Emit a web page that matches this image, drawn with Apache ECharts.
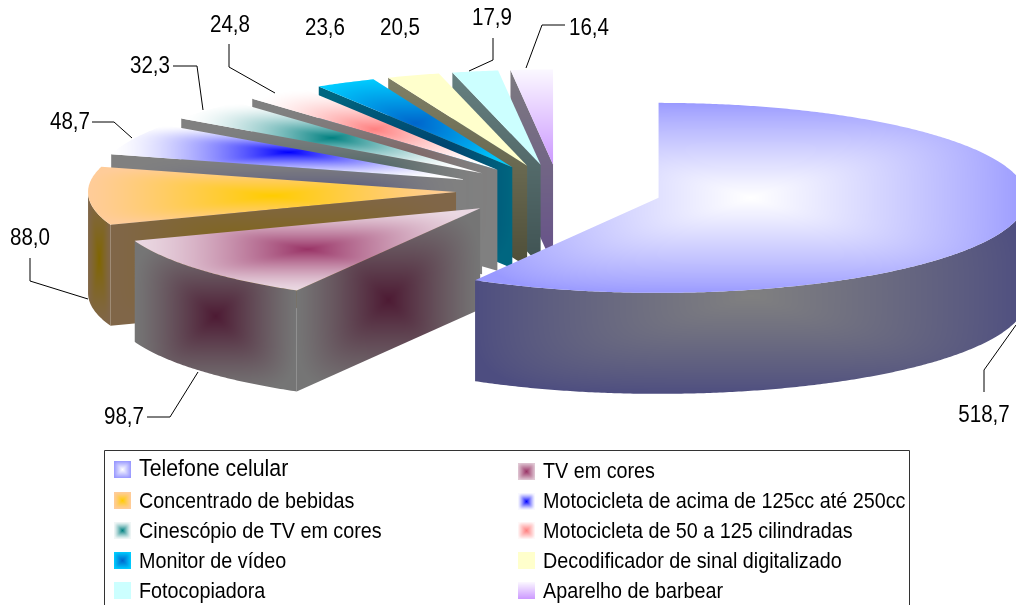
<!DOCTYPE html>
<html>
<head>
<meta charset="utf-8">
<style>html,body{margin:0;padding:0;background:#fff;overflow:hidden}#chart{width:1016px;height:605px}</style>
<script src="https://cdn.jsdelivr.net/npm/echarts@6/dist/echarts.min.js"></script>
</head>
<body>
<div id="chart"></div>
<script>
// Exploded 3D pie: exports by product, values in the order they run clockwise from 12 o'clock.
const categories = ['Telefone celular', 'TV em cores', 'Concentrado de bebidas',
  'Motocicleta de acima de 125cc até 250cc', 'Cinescópio de TV em cores',
  'Motocicleta de 50 a 125 cilindradas', 'Monitor de vídeo',
  'Decodificador de sinal digitalizado', 'Fotocopiadora', 'Aparelho de barbear'];
const values = [518.7, 98.7, 88.0, 48.7, 32.3, 24.8, 23.6, 20.5, 17.9, 16.4];

// Face shading: mode 'box' runs edge -> centre across the face's bounding box, 'down' runs top -> bottom.
// The last entry bends the ramp: above 1 the centre colour stays tighter to the middle.
const topShades = [
  ['box', '#9999ff', '#ffffff', 0.85], ['box', '#ead8e2', '#993366', 1.4], ['box', '#ffcc99', '#ffcc00', 1.2],
  ['box', '#ffffff', '#0000ff', 1.5], ['box', '#ffffff', '#008080', 1.6], ['box', '#ffffff', '#ff8080', 1.5],
  ['box', '#00ccff', '#0066cc', 1], ['box', '#ffffcc', '#ffffcc', 1], ['box', '#ccffff', '#ccffff', 1],
  ['down', '#fbf8ff', '#cc99ff', 1]
];
const sideShades = [
  ['box', '#4d4d80', '#808080', 0.85], ['box', '#757575', '#4d1a33', 1.2], ['box', '#806648', '#806600', 1.3],
  ['box', '#808080', '#000080', 2], ['box', '#808080', '#004040', 2], ['box', '#808080', '#804040', 2],
  ['box', '#006680', '#003366', 1], ['down', '#808066', '#4e4e38', 1], ['down', '#668080', '#3f5252', 1],
  ['down', '#7d7a80', '#66508a', 1]
];

// Pie geometry on the page.
const PIE = { cx: 559, cy: 191, rx: 368, ry: 95, depth: 101, explode: 0.28 };
const FONT = '"Liberation Sans", Arial, sans-serif';
const LABEL_FONT_SIZE = 23;
const LABEL_SQUEEZE = 0.895;

// Where each value label sits and the leader line that ties it to its slice.
const labelSpots = [
  { at: [984, 416], leader: [[984, 392], [984, 370], [1016, 325]] },
  { at: [124, 418], leader: [[147, 417], [170, 417], [198, 372]] },
  { at: [30, 239], leader: [[30, 258], [30, 281], [88, 299]] },
  { at: [70, 123], leader: [[92, 122], [114, 122], [132, 138]] },
  { at: [150, 67], leader: [[173, 66], [197, 66], [203, 110]] },
  { at: [230, 26], leader: [[229, 44], [229, 67], [275, 93]] },
  { at: [325, 29], leader: null },
  { at: [400, 29], leader: null },
  { at: [492, 19], leader: [[493, 38], [493, 60], [469, 71]] },
  { at: [589, 29], leader: [[565, 25], [542, 25], [526, 68]] }
];

function rgb(hex) {
  return [1, 3, 5].map(i => parseInt(hex.substr(i, 2), 16));
}

// Paints one shading into a canvas of the given size so it can be used as a fill.
function shadeCanvas(w, h, box, shade) {
  const canvas = document.createElement('canvas');
  canvas.width = w;
  canvas.height = h;
  const ctx = canvas.getContext('2d');
  const x0 = Math.max(0, Math.floor(box[0])), x1 = Math.min(w, Math.ceil(box[2]));
  const y0 = Math.max(0, Math.floor(box[1])), y1 = Math.min(h, Math.ceil(box[3]));
  if (x1 <= x0 || y1 <= y0) return canvas;
  const img = ctx.createImageData(x1 - x0, y1 - y0);
  const a = rgb(shade[1]), b = rgb(shade[2]);
  const bend = shade[3];
  const mx = (box[0] + box[2]) / 2, my = (box[1] + box[3]) / 2;
  const hw = Math.max(1, (box[2] - box[0]) / 2), hh = Math.max(1, (box[3] - box[1]) / 2);
  let p = 0;
  for (let y = y0; y < y1; y++) {
    for (let x = x0; x < x1; x++) {
      let t;
      if (shade[0] === 'box') {
        const dx = Math.abs(x + 0.5 - mx) / hw, dy = Math.abs(y + 0.5 - my) / hh;
        t = Math.pow(Math.max(0, 1 - Math.pow(Math.pow(dx, 5) + Math.pow(dy, 5), 0.2)), bend);
      } else {
        t = Math.min(1, Math.max(0, (y + 0.5 - box[1]) / (box[3] - box[1])));
      }
      img.data[p++] = a[0] + (b[0] - a[0]) * t;
      img.data[p++] = a[1] + (b[1] - a[1]) * t;
      img.data[p++] = a[2] + (b[2] - a[2]) * t;
      img.data[p++] = 255;
    }
  }
  ctx.putImageData(img, x0, y0);
  return canvas;
}

function fillFor(points, shade) {
  const xs = points.map(p => p[0]), ys = points.map(p => p[1]);
  const box = [Math.min(...xs), Math.min(...ys), Math.max(...xs), Math.max(...ys)];
  return { image: shadeCanvas(1016, 605, box, shade), repeat: 'no-repeat' };
}

// Builds the faces of a slice from its share of the total.
const total = values.reduce((s, v) => s + v, 0);
const RAD = Math.PI / 180;

function sliceGeometry(i) {
  const before = values.slice(0, i).reduce((s, v) => s + v, 0);
  const start = before / total * 360;
  const end = (before + values[i]) / total * 360;
  const mid = (start + end) / 2 * RAD;
  const apex = [
    PIE.cx + Math.sin(mid) * PIE.explode * PIE.rx,
    PIE.cy - Math.cos(mid) * PIE.explode * PIE.ry
  ];
  const rim = deg => [
    apex[0] + Math.sin(deg * RAD) * PIE.rx,
    apex[1] - Math.cos(deg * RAD) * PIE.ry
  ];
  const arc = (from, to) => {
    const out = [];
    const steps = Math.max(2, Math.ceil((to - from) * 2));
    for (let k = 0; k <= steps; k++) out.push(rim(from + (to - from) * k / steps));
    return out;
  };
  const drop = pts => pts.map(p => [p[0], p[1] + PIE.depth]);
  const faces = [];
  if (start > 180 && start < 360) {
    const edge = [apex, rim(start)];
    faces.push(edge.concat(drop(edge).reverse()));
  }
  const from = Math.max(start, 90), to = Math.min(end, 270);
  if (to > from) {
    const curve = arc(from, to);
    faces.push(curve.concat(drop(curve).reverse()));
  }
  return { top: [apex].concat(arc(start, end)), faces };
}

const drawn = values.map((_, i) => {
  const g = sliceGeometry(i);
  return {
    top: { points: g.top, fill: fillFor(g.top, topShades[i]) },
    faces: g.faces.map(pts => ({ points: pts, fill: fillFor(pts, sideShades[i]) }))
  };
});

function formatValue(v) {
  return v.toFixed(1).replace('.', ',');
}

// Slices nearer the viewer get a higher z2, so the painter's order runs from the last slice to the first.
function renderSlice(i, value) {
  const base = (values.length - i) * 10;
  const children = [];
  drawn[i].faces.forEach((f, k) => {
    children.push({ type: 'polygon', z2: base + k, silent: true, shape: { points: f.points }, style: { fill: f.fill } });
  });
  children.push({ type: 'polygon', z2: base + 5, silent: true, shape: { points: drawn[i].top.points }, style: { fill: drawn[i].top.fill } });
  const spot = labelSpots[i];
  if (spot.leader) {
    children.push({ type: 'polyline', z2: 1000, silent: true, shape: { points: spot.leader }, style: { stroke: '#000', lineWidth: 1, fill: null } });
  }
  children.push({
    type: 'text', z2: 1001, silent: true, x: spot.at[0], y: spot.at[1], scaleX: LABEL_SQUEEZE,
    style: { text: formatValue(value), fontSize: LABEL_FONT_SIZE, fontFamily: FONT, fill: '#000', align: 'center', verticalAlign: 'middle' }
  });
  return { type: 'group', children };
}

// Legend keys and names, two columns filled row by row.
const KEY = 17;
const keyShades = [
  ['box', '#9999ff', '#ffffff', 1], ['box', '#e0c8d4', '#993366', 1], ['box', '#ffcc99', '#ffcc00', 1.3],
  ['box', '#f8f8ff', '#0000ff', 1.3], ['box', '#f0f6f6', '#008080', 1.3], ['box', '#fff8f8', '#ff8080', 1],
  ['box', '#00ccff', '#0066cc', 1], ['box', '#ffffcc', '#ffffcc', 1], ['box', '#ccffff', '#ccffff', 1],
  ['down', '#fbf8ff', '#cc99ff', 1]
];
const legendRowsLeft = [469, 502, 532, 562, 592];
const legendRowsRight = [472, 502, 532, 562, 592];
const legendKeysLeft = [461, 492, 522, 552, 582];
const legendKeysRight = [463, 493, 522, 552, 582];
const LEGEND_SQUEEZE = 0.878;

function legendEntry(i) {
  const right = i % 2 === 1;
  const row = Math.floor(i / 2);
  const y = (right ? legendRowsRight : legendRowsLeft)[row];
  const keyY = (right ? legendKeysRight : legendKeysLeft)[row];
  const keyX = right ? 518 : 114;
  const first = i === 0;
  const tile = { image: shadeCanvas(KEY, KEY, [0, 0, KEY, KEY], keyShades[i]), repeat: 'repeat' };
  return [
    { type: 'rect', silent: true, x: keyX, y: keyY, shape: { x: 0, y: 0, width: KEY, height: KEY }, style: { fill: tile } },
    { type: 'text', silent: true, x: keyX + 25, y, scaleX: first ? 0.87 : LEGEND_SQUEEZE,
      style: { text: categories[i], fontFamily: FONT, fontSize: first ? 24.5 : 22.5, fill: '#000', align: 'left', verticalAlign: 'middle' } }
  ];
}

const chart = echarts.init(document.getElementById('chart'), null, { renderer: 'canvas', devicePixelRatio: 1 });
chart.setOption({
  animation: false,
  backgroundColor: '#fff',
  graphic: [{
    type: 'rect', silent: true, z: -1,
    shape: { x: 104.5, y: 450.5, width: 805, height: 170 },
    style: { fill: '#fff', stroke: '#333', lineWidth: 1 }
  }].concat(...categories.map((_, i) => legendEntry(i))),
  series: values.map((v, i) => ({
    type: 'custom',
    name: categories[i],
    coordinateSystem: 'none',
    silent: true,
    data: [v],
    renderItem: (params, api) => renderSlice(i, api.value(0))
  }))
});
</script>
</body>
</html>
